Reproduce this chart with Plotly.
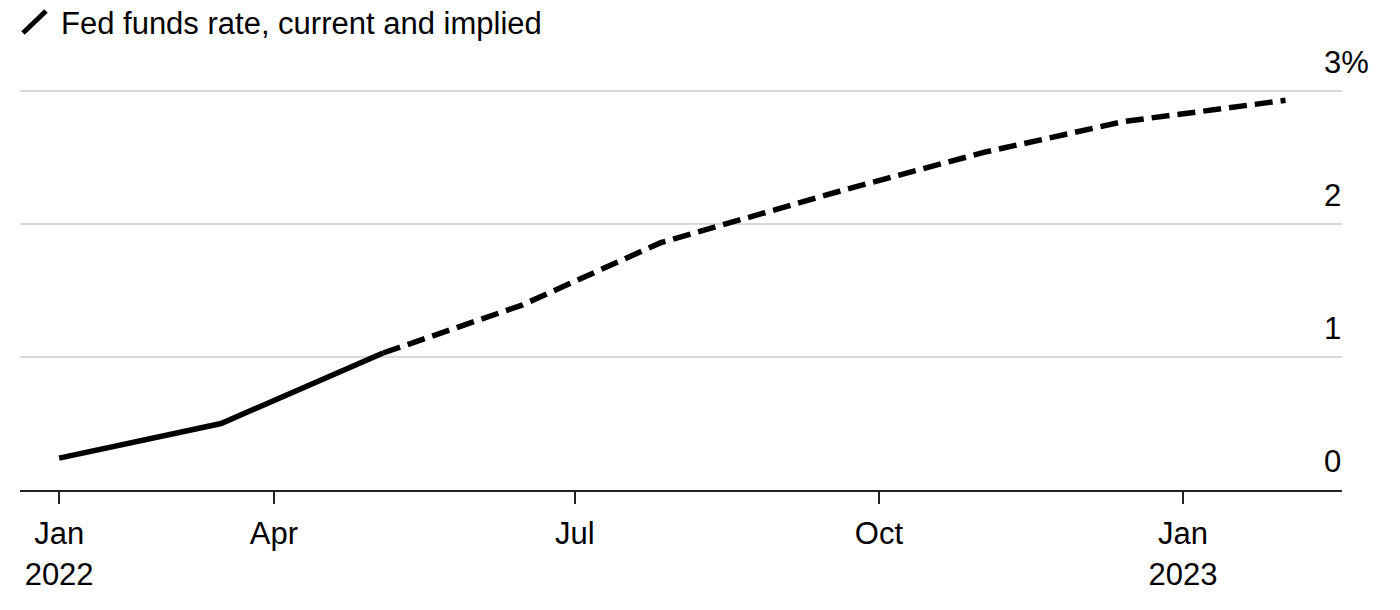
import plotly.graph_objects as go

# Data
actual_dates = ["2022-01-26", "2022-03-16", "2022-05-04"]
actual_rates = [0.24, 0.50, 1.03]

implied_dates = ["2022-05-04", "2022-06-15", "2022-07-27", "2022-09-21",
                 "2022-11-02", "2022-12-14", "2023-02-01"]
implied_rates = [1.03, 1.39, 1.86, 2.26, 2.54, 2.77, 2.93]

x_tickvals = ["2022-01-26", "2022-04-01", "2022-07-01", "2022-10-01", "2023-01-01"]
x_ticktext = ["Jan<br>2022", "Apr", "Jul", "Oct", "Jan<br>2023"]

y_tickvals = [0, 1, 2, 3]
y_ticktext = ["0", "1", "2", "3%"]

title_text = "Fed funds rate, current and implied"

FONT = "Liberation Sans, Arial, Helvetica, sans-serif"
FS = 31
W, H = 1400, 610
L, R, T, B = 20, 58, 84, 120
PX_PER_UNIT = 133.0
pw = W - L - R
ph = H - T - B
y_top = ph / PX_PER_UNIT

fig = go.Figure()
fig.add_trace(go.Scatter(
    x=actual_dates, y=actual_rates, mode="lines",
    line=dict(color="#000000", width=5.5), showlegend=False, hoverinfo="skip"))
fig.add_trace(go.Scatter(
    x=implied_dates, y=implied_rates, mode="lines",
    line=dict(color="#000000", width=5.5, dash="18px,8px"), showlegend=False,
    hoverinfo="skip"))

# legend icon (slanted line) in paper coordinates
fig.add_shape(type="line", xref="paper", yref="paper",
              x0=(23 - L) / pw, y0=(H - B - 33) / ph,
              x1=(46 - L) / pw, y1=(H - B - 11) / ph,
              line=dict(color="#000000", width=5))

fig.update_layout(
    width=W, height=H,
    margin=dict(l=L, r=R, t=T, b=B, pad=0),
    paper_bgcolor="white", plot_bgcolor="white",
    font=dict(family=FONT, size=FS, color="#000000"),
    title=dict(text=title_text, x=61 / W, xanchor="left", xref="container",
               y=1 - 23 / H, yanchor="middle", yref="container",
               font=dict(family=FONT, size=FS, color="#000000")),
    xaxis=dict(
        type="date",
        range=["2022-01-14 04:00", "2023-02-18 02:00"],
        tickvals=x_tickvals, ticktext=x_ticktext,
        showgrid=False, zeroline=False,
        showline=True, linecolor="#222222", linewidth=2,
        ticks="outside", ticklen=12, tickwidth=1.5, tickcolor="#222222",
        ticklabelstandoff=3,
        tickfont=dict(family=FONT, size=FS, color="#000000"),
        fixedrange=True,
    ),
    yaxis=dict(
        range=[0, y_top],
        side="right",
        tickvals=y_tickvals, ticktext=y_ticktext,
        showgrid=True, gridcolor="#d9d9d9", gridwidth=2,
        zeroline=False, showline=False, ticks="",
        ticklabelposition="outside",
        ticklabelstandoff=-19, ticklabelshift=-29,
        tickfont=dict(family=FONT, size=FS, color="#000000"),
        fixedrange=True,
    ),
)

fig.write_html("out.html", config={"displayModeBar": False},
               post_script="document.body.style.margin='0';")
